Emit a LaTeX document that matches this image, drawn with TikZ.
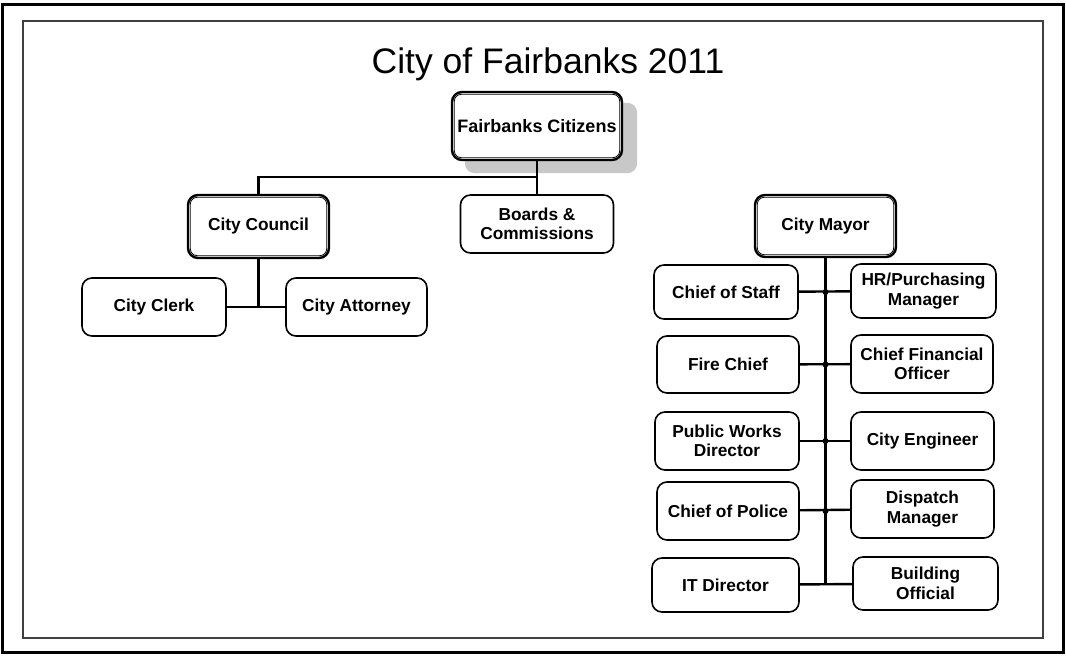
\documentclass[tikz,border=0pt]{standalone}
\usepackage{fontspec}
\setmainfont{Liberation Sans}
\usetikzlibrary{backgrounds}
\definecolor{shadowgray}{RGB}{200,200,200}
\tikzset{
  x=1pt, y=-1pt,
  orgbox/.style={draw=black, line width=1.6pt, rounded corners=10pt, fill=white,
    align=center, inner sep=2pt, font=\fontsize{17.3}{19.5}\selectfont\bfseries},
  dblbox/.style={orgbox, line width=2.4pt},
  innerline/.style={line width=0.8pt, rounded corners=7pt},
  conn/.style={line width=2.4pt},
  jdot/.style={fill=black},
}
\begin{document}
\begin{tikzpicture}
\useasboundingbox (0,0) rectangle (1066,656);
\draw[line width=3pt] (2.5,4) rectangle (1063,652);
\draw[line width=1.2pt, black!75] (23,21) rectangle (1043,638);
\node (title) at (548,64) {\fontsize{35.5}{40}\selectfont City of Fairbanks 2011};

% boxes
\node[dblbox, minimum width=170pt, minimum height=68pt, font=\fontsize{18}{20}\selectfont\bfseries] (cit) at (537,126) {Fairbanks Citizens};
\node[dblbox, minimum width=141pt, minimum height=63pt] (council) at (258.5,226.5) {City Council};
\node[orgbox, minimum width=153pt, minimum height=58pt] (boards) at (537,224) {Boards \&\\Commissions};
\node[orgbox, minimum width=144pt, minimum height=58pt] (clerk) at (154,307) {City Clerk};
\node[orgbox, minimum width=141pt, minimum height=58pt] (attorney) at (356.5,307) {City Attorney};
\node[dblbox, minimum width=141pt, minimum height=62pt] (mayor) at (825.5,226) {City Mayor};

\node[orgbox, minimum width=144pt, minimum height=54pt] (cos) at (726,292) {Chief of Staff};
\node[orgbox, minimum width=145pt, minimum height=54pt] (hr) at (923.5,291) {HR/Purchasing\\Manager};
\node[orgbox, minimum width=142pt, minimum height=57pt] (fire) at (728,364.5) {Fire Chief};
\node[orgbox, minimum width=142pt, minimum height=58pt] (cfo) at (922,364) {Chief Financial\\Officer};
\node[orgbox, minimum width=144pt, minimum height=58pt] (pwd) at (727,441) {Public Works\\Director};
\node[orgbox, minimum width=143pt, minimum height=58pt] (eng) at (922.5,441) {City Engineer};
\node[orgbox, minimum width=142pt, minimum height=58pt] (police) at (728,511) {Chief of Police};
\node[orgbox, minimum width=143pt, minimum height=58pt] (disp) at (922.5,509) {Dispatch\\Manager};
\node[orgbox, minimum width=147pt, minimum height=54pt] (it) at (725.5,585) {IT Director};
\node[orgbox, minimum width=145pt, minimum height=53pt] (bldg) at (925.5,583.5) {Building\\Official};

% inner lines of double boxes
\foreach \n in {cit,council,mayor}{
  \draw[innerline] ([shift={(3.5,3.5)}]\n.north west) rectangle ([shift={(-3.5,-3.5)}]\n.south east);
}

% shadow
\begin{scope}[on background layer]
  \fill[shadowgray, rounded corners=10pt] ([shift={(14,12)}]cit.north west) rectangle ([shift={(14,12)}]cit.south east);
\end{scope}

% connectors
\coordinate (topj) at (cit.south |- 0,177);
\draw[conn] (cit.south) -- (boards.north);
\draw[conn] (council.north) |- (topj);
\coordinate (cj) at (council.south |- clerk.east);
\draw[conn] (council.south) -- (cj);
\draw[conn] (clerk) -- (attorney);

\coordinate (spend) at (mayor.south |- 0,583);
\draw[conn] (mayor.south) -- (spend);
\draw[conn] (cos) -- (hr);
\draw[conn] (fire) -- (cfo);
\draw[conn] (pwd) -- (eng);
\draw[conn] (police) -- (disp);
\draw[conn] (it) -- (bldg);
\foreach \r in {cos,fire,pwd,police}{
  \fill[jdot] (mayor.south |- \r.east) circle (3pt);
}
\end{tikzpicture}
\end{document}
